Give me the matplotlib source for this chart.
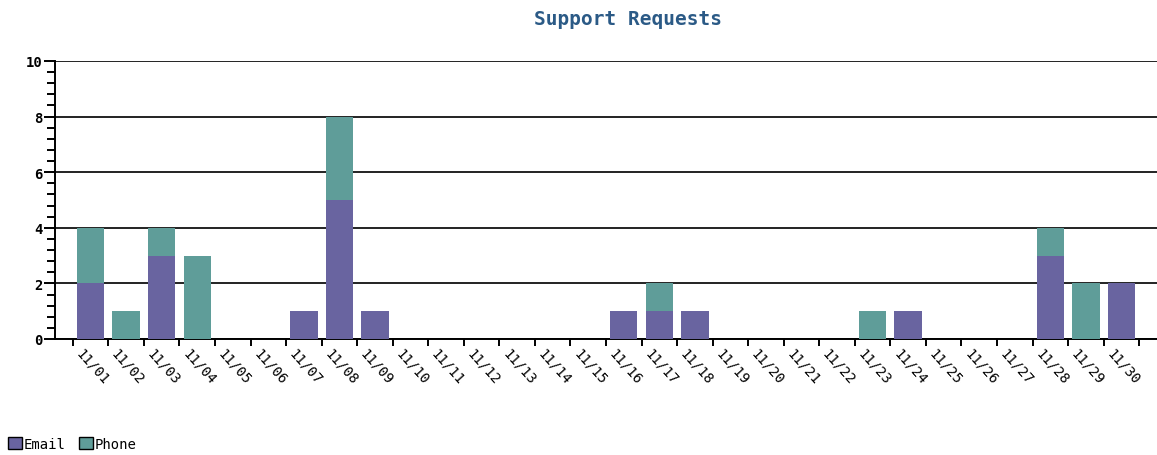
import numpy as np
import matplotlib.pyplot as plt
import matplotlib.transforms as mtransforms
from matplotlib.ticker import MultipleLocator
from matplotlib.patches import Patch

dias = ["11/%02d" % d for d in range(1, 31)]
email = [2, 0, 3, 0, 0, 0, 1, 5, 1, 0, 0, 0, 0, 0, 0, 1, 1, 1, 0, 0, 0, 0, 0, 1, 0, 0, 0, 3, 0, 2]
phone = [2, 1, 1, 3, 0, 0, 0, 3, 0, 0, 0, 0, 0, 0, 0, 0, 1, 0, 0, 0, 0, 0, 1, 0, 0, 0, 0, 1, 2, 0]

c_email = "#6964a0"
c_phone = "#5f9d99"

fig = plt.figure(figsize=(11.57, 4.56), dpi=100)
ax = fig.add_axes([55 / 1157, 116 / 456, 1 - 55 / 1157, 278 / 456])

x = np.arange(len(dias))
ax.bar(x, email, width=0.77, color=c_email, zorder=3)
ax.bar(x, phone, width=0.77, bottom=email, color=c_phone, zorder=3)

ax.set_xlim(-1, 30)
ax.set_ylim(0, 10)
ax.yaxis.set_major_locator(MultipleLocator(2))
ax.yaxis.set_minor_locator(MultipleLocator(0.4))
ax.grid(axis="y", which="major", color="#222222", linewidth=1.4, zorder=1)
for s in ["top", "right"]:
    ax.spines[s].set_visible(False)
ax.spines["left"].set_linewidth(1.4)
ax.spines["bottom"].set_linewidth(1.4)

ax.tick_params(axis="y", which="major", length=8, width=1.4, labelsize=10, pad=1)
ax.tick_params(axis="y", which="minor", length=6, width=1.4)
ax.set_xticks(x)
ax.set_xticks(np.arange(-0.5, 30, 1), minor=True)
ax.tick_params(axis="x", which="major", length=0, labelsize=10, pad=5)
ax.tick_params(axis="x", which="minor", length=5, width=1.4)
ax.set_xticklabels(dias, rotation=-48, ha="left", va="top", rotation_mode="anchor",
                   family="DejaVu Sans Mono")
off = mtransforms.ScaledTranslation(-7 / 100, 0, fig.dpi_scale_trans)
for lab in ax.get_xticklabels():
    lab.set_transform(lab.get_transform() + off)
for lab in ax.get_yticklabels():
    lab.set_family("DejaVu Sans Mono")
    lab.set_fontweight("bold")

fig.text(0.543, 0.958, "Support Requests", ha="center", va="center", fontsize=14,
         fontweight="bold", family="DejaVu Sans Mono", color="#2b5a86")

handles = [Patch(facecolor=c_email, edgecolor="black", label="Email"),
           Patch(facecolor=c_phone, edgecolor="black", label="Phone")]
fig.legend(handles=handles, loc="lower left", bbox_to_anchor=(-0.004, -0.018), ncol=2,
           frameon=False, handlelength=1.0, handleheight=1.0, handletextpad=0.1,
           columnspacing=1.0, prop={"family": "DejaVu Sans Mono", "size": 10})

fig.savefig("out.png", dpi=100)
